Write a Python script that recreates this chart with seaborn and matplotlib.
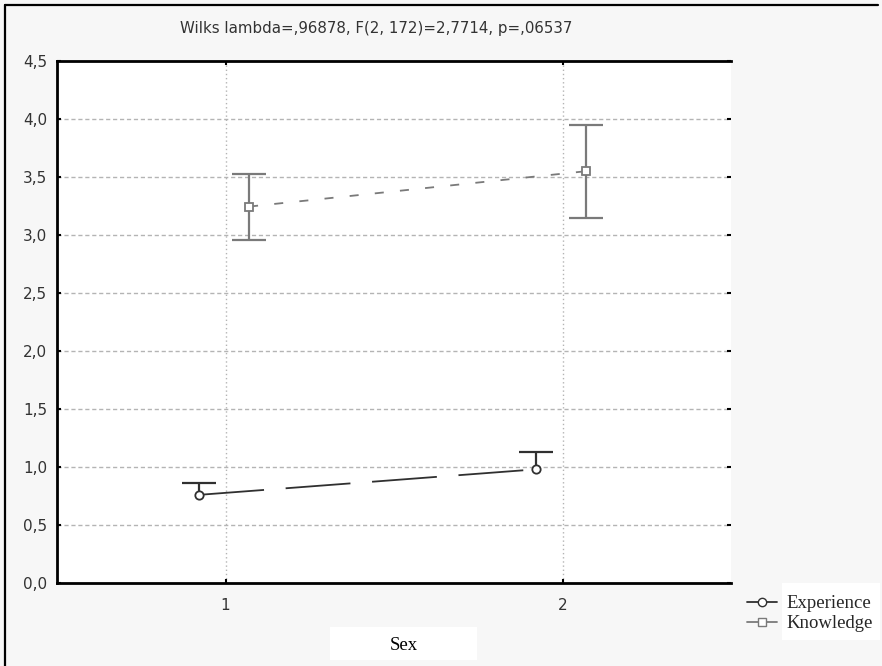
import numpy as np
import pandas as pd
import matplotlib
matplotlib.use("Agg")
import matplotlib.pyplot as plt
from matplotlib.lines import Line2D
from matplotlib.patches import Rectangle
import seaborn as sns

# ---- data ----
sex_levels = [1, 2]
measures = ["Experience", "Knowledge"]
experience_mean = [0.76, 0.98]
experience_err_up = [0.10, 0.15]
experience_err_down = [0.0, 0.0]
knowledge_mean = [3.245, 3.55]
knowledge_err_up = [0.285, 0.40]
knowledge_err_down = [0.285, 0.40]
y_ticks = [0.0, 0.5, 1.0, 1.5, 2.0, 2.5, 3.0, 3.5, 4.0, 4.5]
y_tick_labels = ["0,0", "0,5", "1,0", "1,5", "2,0", "2,5", "3,0", "3,5", "4,0", "4,5"]
x_tick_labels = ["1", "2"]
title_text = "Wilks lambda=,96878, F(2, 172)=2,7714, p=,06537"
x_label = "Sex"

# ---- style constants ----
offsets = {"Experience": -0.078, "Knowledge": 0.07}
colors = {"Experience": "#303030", "Knowledge": "#7a7a7a"}
marker_map = {"Experience": "o", "Knowledge": "s"}

df = pd.DataFrame({
    "sex": sex_levels * 2,
    "measure": ["Experience"] * 2 + ["Knowledge"] * 2,
    "mean": experience_mean + knowledge_mean,
    "up": experience_err_up + knowledge_err_up,
    "down": experience_err_down + knowledge_err_down,
})
df["xpos"] = df["sex"] + df["measure"].map(offsets)

sns.set_style("white")
plt.rcParams["font.family"] = ["DejaVu Sans"]

fig = plt.figure(figsize=(8.82, 6.66), dpi=100, facecolor="#f7f7f7")
ax = fig.add_axes([57 / 882, 83 / 666, (731 - 57) / 882, (583 - 61) / 666])
ax.set_facecolor("white")

# grid
for yv in y_ticks[1:-1]:
    ax.axhline(yv, color="#b4b4b4", lw=1.0, ls=(0, (3, 2)), zorder=0)
for xv in sex_levels:
    ax.axvline(xv, color="#b4b4b4", lw=1.0, ls=(0, (1, 2)), zorder=0)

for m in measures:
    sub = df[df["measure"] == m]
    _, caps, _ = ax.errorbar(sub["xpos"], sub["mean"], yerr=[sub["down"], sub["up"]],
                             fmt="none", ecolor=colors[m], elinewidth=1.6, capsize=12,
                             capthick=1.6, zorder=2)
    if (sub["down"] == 0).all() and len(caps) == 2:
        caps[0].set_visible(False)

sns.lineplot(
    data=df, x="xpos", y="mean", hue="measure", style="measure",
    palette=colors, dashes={"Experience": (36, 12), "Knowledge": (5, 9)},
    markers=marker_map, markersize=6,
    linewidth=1.3, legend=False, ax=ax, zorder=3,
)
for line, m in zip(ax.lines[-2:], measures):
    line.set_markerfacecolor("white")
    line.set_markeredgecolor(colors[m])
    line.set_markeredgewidth(1.3)

ax.set_xlim(0.5, 2.5)
ax.set_ylim(0, 4.5)
ax.set_xticks(sex_levels)
ax.set_xticklabels(x_tick_labels)
ax.set_yticks(y_ticks)
ax.set_yticklabels(y_tick_labels)
ax.set_xlabel("")
ax.set_ylabel("")
ax.tick_params(axis="both", direction="in", length=3, width=1.5, color="black",
               labelsize=11, labelcolor="#333333", top=True, right=True,
               left=True, bottom=True)
ax.tick_params(axis="y", pad=7)
ax.tick_params(axis="x", pad=11)
for s in ["left", "bottom", "top"]:
    ax.spines[s].set_visible(True)
    ax.spines[s].set_color("black")
    ax.spines[s].set_linewidth(2)
ax.spines["right"].set_visible(False)

# title
fig.text(376 / 882, 1 - 28 / 666, title_text, ha="center", va="center",
         fontsize=10.8, color="#333333")

# frame lines (top and left)
fig.add_artist(Line2D([5 / 882, 878 / 882], [1 - 5 / 666, 1 - 5 / 666], color="black", lw=1.6))
fig.add_artist(Line2D([5 / 882, 5 / 882], [0, 1 - 5 / 666], color="black", lw=1.6))

# x label box
fig.add_artist(Rectangle((330 / 882, 6 / 666), 147 / 882, 33 / 666,
                         transform=fig.transFigure, facecolor="white", edgecolor="none"))
fig.text(404 / 882, 1 - 645 / 666, x_label, ha="center", va="center",
         fontsize=13.5, family="Liberation Serif", color="black")

# legend
fig.add_artist(Rectangle((782 / 882, 26 / 666), 98 / 882, 57 / 666,
                         transform=fig.transFigure, facecolor="white", edgecolor="none"))
handles = [Line2D([], [], color=colors[m], lw=1.3, marker=marker_map[m],
                  markerfacecolor="white", markeredgecolor=colors[m],
                  markersize=6) for m in measures]
fig.legend(handles, measures, loc="upper left",
           bbox_to_anchor=(747 / 882, 1 - 595 / 666), frameon=False,
           prop={"family": "Liberation Serif", "size": 13.5},
           handlelength=1.6, handletextpad=0.5, labelspacing=0.15,
           borderpad=0, borderaxespad=0)

fig.savefig("out.png", dpi=100, facecolor=fig.get_facecolor())
